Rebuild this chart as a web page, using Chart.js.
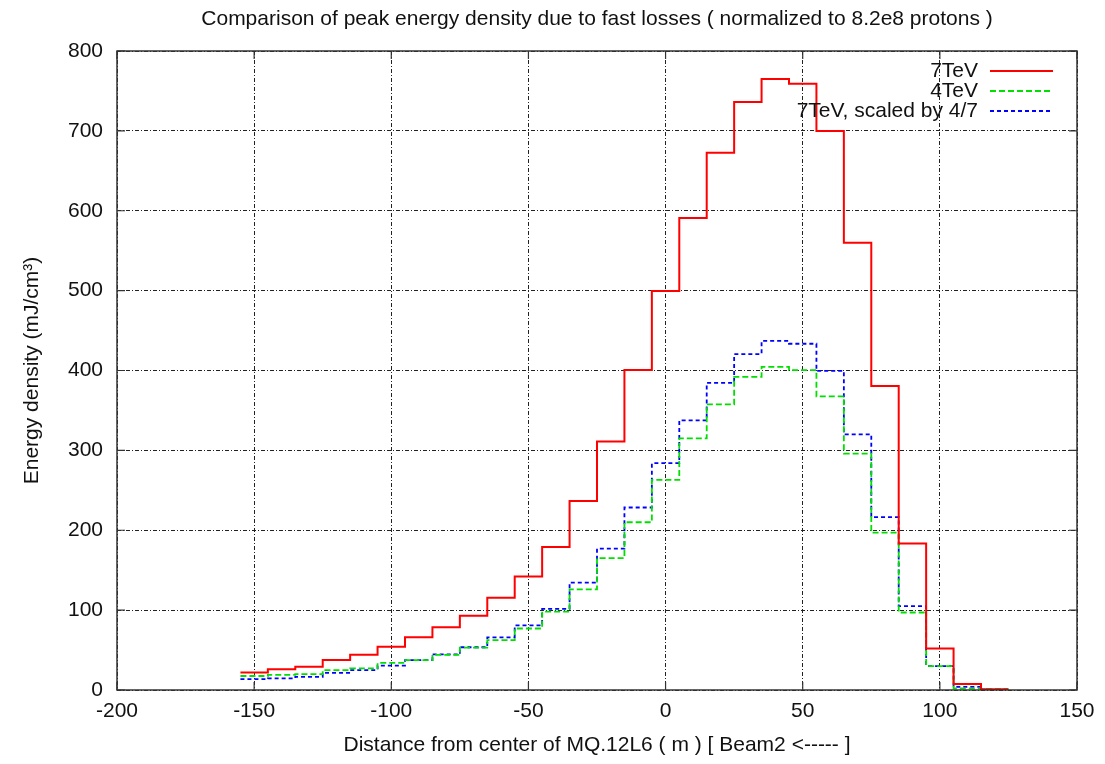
<!DOCTYPE html>
<html>
<head>
<meta charset="utf-8">
<script src="https://cdn.jsdelivr.net/npm/chart.js@4.4.0/dist/chart.umd.min.js"></script>
<style>
  body { margin: 0; background: #fff; }
  canvas { display: block; }
</style>
</head>
<body>
<canvas id="chart" width="1105" height="764"></canvas>
<script>
// bin centres (m), each bin 10 m wide
let binCenters = [-150, -140, -130, -120, -110, -100, -90, -80, -70, -60, -50, -40, -30, -20, -10,
                  0, 10, 20, 30, 40, 50, 60, 70, 80, 90, 100, 110, 120];
let binWidth = 10;

let red7TeV = [22, 26, 29, 37.5, 44, 54, 66, 78.5, 93, 115.5, 142, 179, 236.5, 311, 400.5,
               499.5, 591, 672.5, 736, 765, 759, 700, 560, 380.5, 183.5, 52, 7.5, 1];
let green4TeV = [17.5, 19, 20, 25, 27, 34, 37.5, 44, 53, 62.5, 77, 98, 126, 165, 210,
                 263, 315, 357.5, 392, 404.5, 400.5, 367.5, 296, 197, 97, 30, 2, 1];
let blueScaled = [13.5, 14.5, 16.5, 21.5, 25, 30.5, 37.5, 44.5, 53.5, 66, 81, 101.5, 134.5, 177, 228.5,
                  284, 337.5, 384.5, 420.5, 437, 433.5, 399.5, 320, 216.5, 105, 30, 4, 0.5];

let seriesLabels = ["7TeV", "4TeV", "7TeV, scaled by 4/7"];
let xTicks = [-200, 150, 50];   // min, max, step
let yTicks = [0, 800, 100];

const FONT = '"Liberation Sans", Arial, Helvetica, sans-serif';

/* histeps: flat segment across each bin */
function toSteps(vals) {
    let pts = [];
    binCenters.forEach((c, i) => {
        pts.push({ x: c - binWidth / 2, y: vals[i] });
        pts.push({ x: c + binWidth / 2, y: vals[i] });
    });
    return pts;
}

/* frame, inward ticks, title, legend */
const gnuplotLook = {
    id: "gnuplotLook",
    afterDraw(chart) {
        const ctx = chart.ctx;
        const a = chart.chartArea;
        ctx.save();

        ctx.strokeStyle = "#333";
        ctx.lineWidth = 1.5;
        ctx.setLineDash([]);
        ctx.strokeRect(a.left, a.top, a.right - a.left, a.bottom - a.top);

        ctx.lineWidth = 1.2;
        ctx.beginPath();
        chart.scales.x.ticks.forEach(t => {
            let px = chart.scales.x.getPixelForValue(t.value);
            ctx.moveTo(px, a.bottom); ctx.lineTo(px, a.bottom - 8);
            ctx.moveTo(px, a.top); ctx.lineTo(px, a.top + 8);
        });
        chart.scales.y.ticks.forEach(t => {
            let py = chart.scales.y.getPixelForValue(t.value);
            ctx.moveTo(a.left, py); ctx.lineTo(a.left + 8, py);
            ctx.moveTo(a.right, py); ctx.lineTo(a.right - 8, py);
        });
        ctx.stroke();

        // title
        ctx.fillStyle = "#111";
        ctx.font = "21px " + FONT;
        ctx.textAlign = "center";
        ctx.textBaseline = "middle";
        ctx.fillText("Comparison of peak energy density due to fast losses ( normalized to 8.2e8 protons )",
            (a.left + a.right) / 2, 19);

        // legend (text left of sample, right aligned)
        ctx.textAlign = "right";
        chart.data.datasets.forEach((ds, i) => {
            let y = 71 + i * 20;
            ctx.fillStyle = "#111";
            ctx.fillText(ds.label, 978, y);
            ctx.strokeStyle = ds.borderColor;
            ctx.lineWidth = ds.borderWidth;
            ctx.setLineDash(ds.borderDash || []);
            ctx.beginPath();
            ctx.moveTo(990, y); ctx.lineTo(1053, y);
            ctx.stroke();
        });
        ctx.restore();
    }
};

let chart = new Chart(document.getElementById("chart"), {
    type: "line",
    data: {
        datasets: [
            { label: seriesLabels[0], data: toSteps(red7TeV), borderColor: "#ff0000",
              borderWidth: 2, borderDash: [] },
            { label: seriesLabels[1], data: toSteps(green4TeV), borderColor: "#00e000",
              borderWidth: 1.8, borderDash: [6, 3] },
            { label: seriesLabels[2], data: toSteps(blueScaled), borderColor: "#0000ff",
              borderWidth: 1.8, borderDash: [4, 3] }
        ]
    },
    options: {
        responsive: false,
        animation: false,
        layout: { padding: { top: 51, right: 28, bottom: 0, left: 0 } },
        elements: {
            point: { radius: 0 },
            line: { tension: 0, fill: false }
        },
        plugins: {
            legend: { display: false },
            title: { display: false },
            tooltip: { enabled: false }
        },
        scales: {
            x: {
                type: "linear",
                min: xTicks[0], max: xTicks[1],
                ticks: { stepSize: xTicks[2], color: "#111", font: { size: 21, family: FONT }, padding: 9 },
                grid: { color: "#222", lineWidth: 1, drawTicks: false },
                border: { display: false, dash: [4, 2, 1, 2] },
                title: { display: true, text: "Distance from center of MQ.12L6 ( m ) [ Beam2 <----- ]",
                         color: "#111", font: { size: 21, family: FONT }, padding: { top: 0, bottom: 6 } },
                afterFit: s => { s.height = 74; }
            },
            y: {
                min: yTicks[0], max: yTicks[1],
                ticks: { stepSize: yTicks[2], color: "#111", font: { size: 21, family: FONT }, padding: 14 },
                grid: { color: "#222", lineWidth: 1, drawTicks: false },
                border: { display: false, dash: [4, 2, 1, 2] },
                title: { display: true, text: "Energy density (mJ/cm³)",
                         color: "#111", font: { size: 21, family: FONT }, padding: { top: 20, bottom: 0 } },
                afterFit: s => { s.width = 117; }
            }
        }
    },
    plugins: [gnuplotLook]
});
</script>
</body>
</html>
